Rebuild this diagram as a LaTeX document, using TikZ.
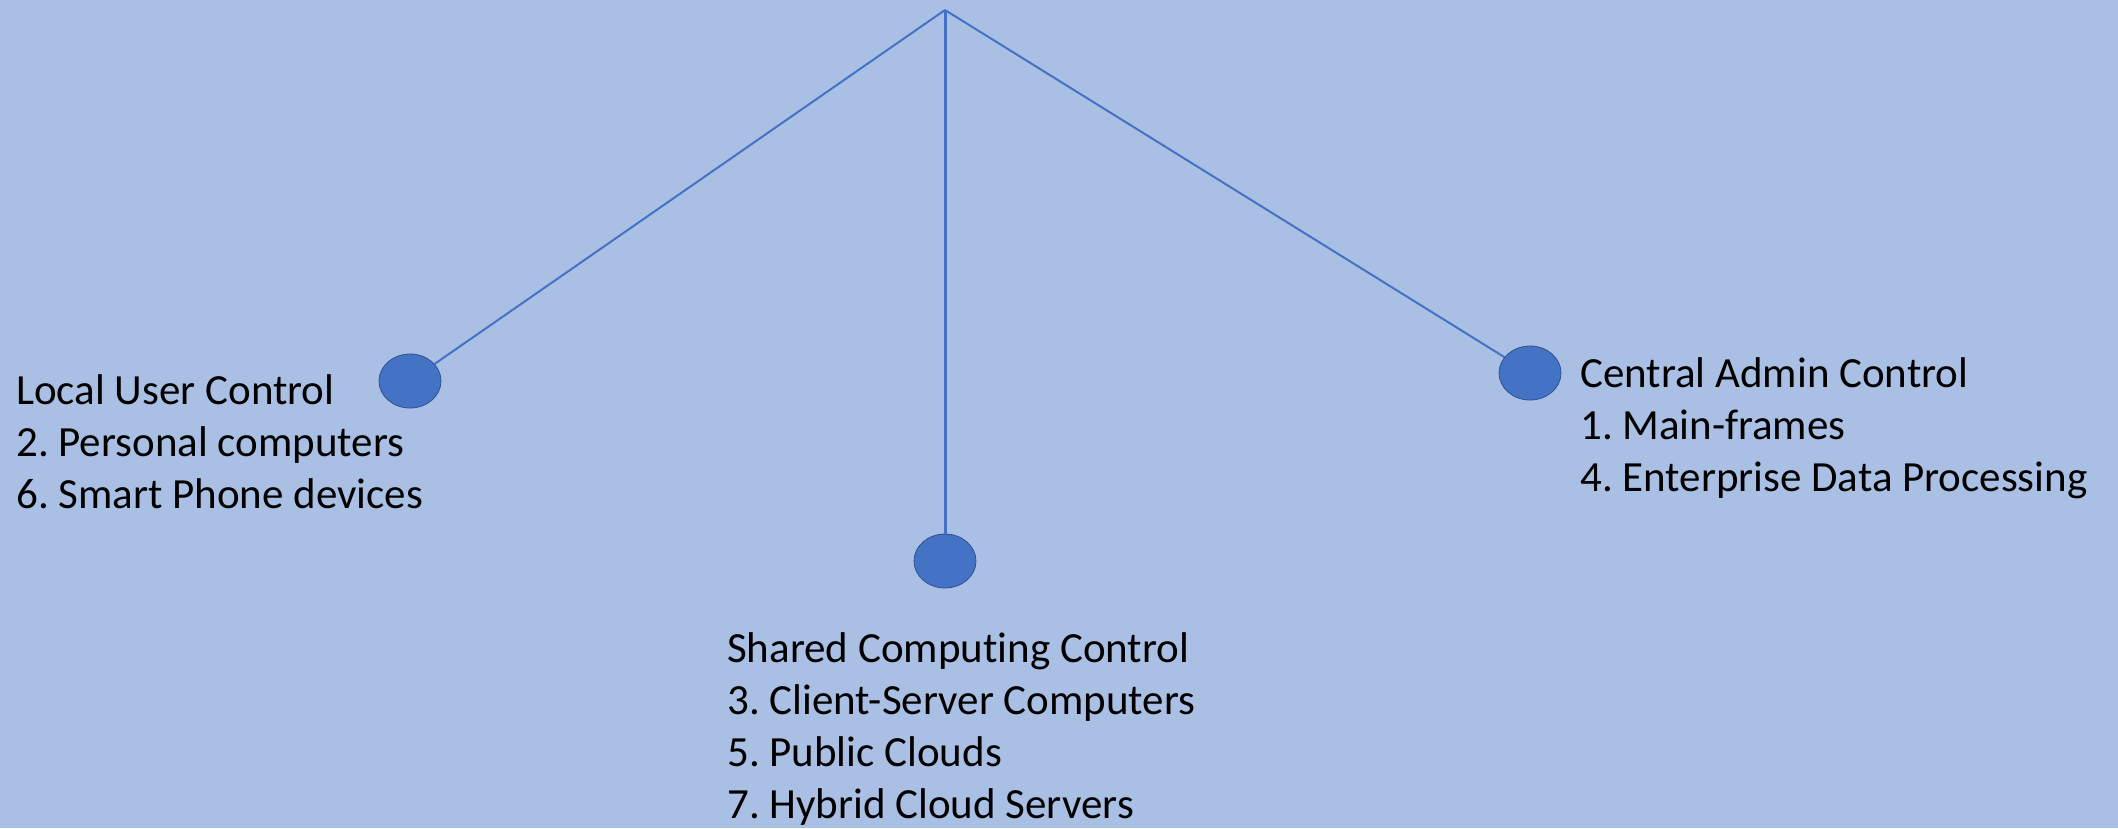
\documentclass[tikz,border=0pt]{standalone}
\usepackage{fontspec}
\setmainfont{Carlito}[Ligatures=NoCommon]
\usetikzlibrary{shapes.geometric}
\definecolor{paneblue}{RGB}{170,191,228}
\definecolor{dotblue}{RGB}{68,114,196}
\definecolor{dotedge}{RGB}{47,82,143}
\frenchspacing
\tikzset{
  dot/.style={ellipse, fill=dotblue, draw=dotedge, line width=0.8pt,
    minimum width=62pt, minimum height=54pt, inner sep=0pt},
  branch/.style={draw=dotblue, line width=2pt},
  lbl/.style={align=left, anchor=base west, inner sep=0pt,
    font=\fontsize{43}{52}\selectfont}
}

\begin{document}
\begin{tikzpicture}[x=1pt,y=-1pt]
	%%%%% START %%%%%
	
	\fill[paneblue] (0,0) rectangle (2118,828);
	\useasboundingbox (0,0) rectangle (2118,828);
	
	\coordinate (top) at (945,10);
	
	\node[dot] (local) at (410,381) {};
	\node[dot] (shared) at (945,561) {};
	\node[dot] (central) at (1530,373) {};
	
	\draw[branch] (top) -- (local);
	\draw[branch, line width=3pt] (top) -- (shared);
	\draw[branch] (top) -- (central);
	
	% base anchor sits on the last line
	\node[lbl] (localtxt) at (16,508) {Local User Control\\2. Personal computers\\6. Smart Phone devices};
	\node[lbl] (sharedtxt) at (727,818) {Shared Computing Control\\3. Client-Server Computers\\5. Public Clouds\\7. Hybrid Cloud Servers};
	\node[lbl] (centraltxt) at (1580,491) {Central Admin Control\\1. Main-frames\\4. Enterprise Data Processing};
	
	%%%%% END %%%%%
\end{tikzpicture}
\end{document}
